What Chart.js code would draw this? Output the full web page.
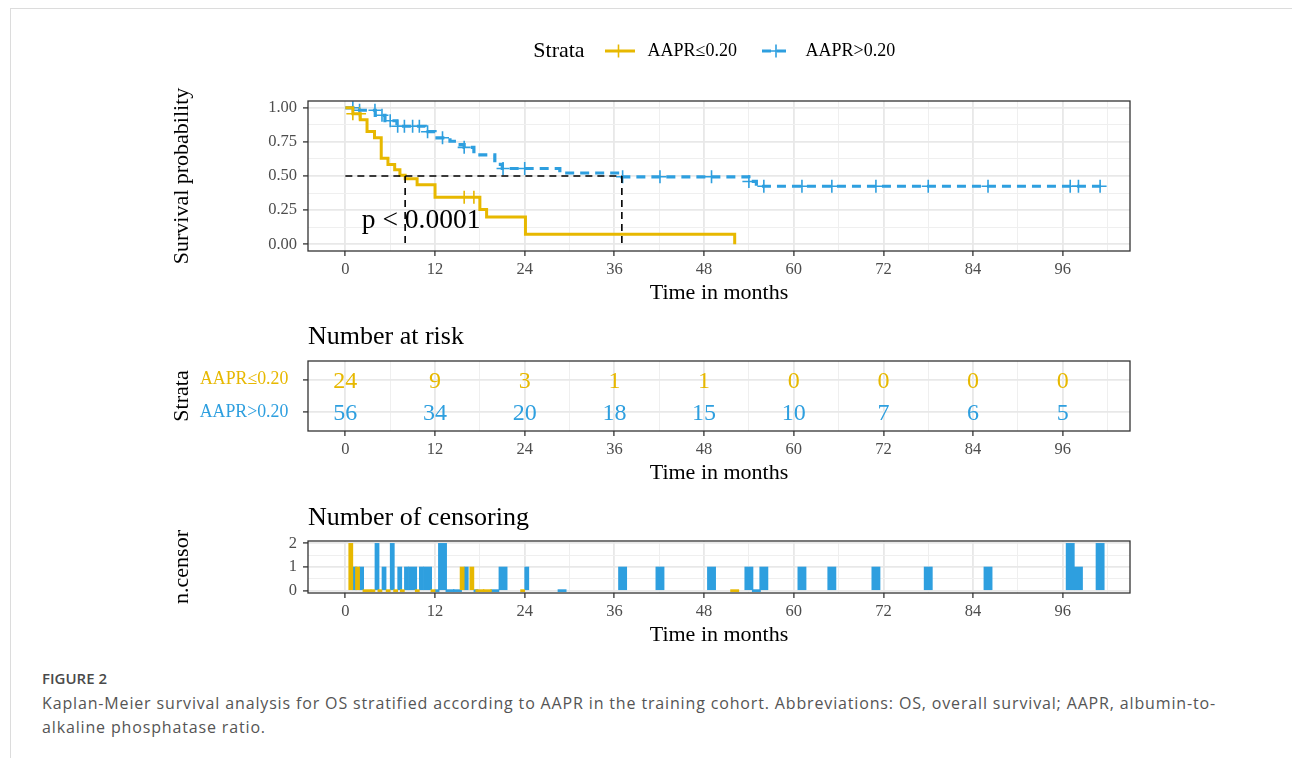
<!DOCTYPE html>
<html lang="en"><head><meta charset="utf-8">
<title>Kaplan-Meier survival analysis</title>
<script src="https://cdn.jsdelivr.net/npm/chart.js@4.4.1/dist/chart.umd.min.js"></script>
<style>
html,body{margin:0;padding:0;background:#fff;}
body{width:1292px;height:758px;position:relative;overflow:hidden;}
#frame{position:absolute;left:10px;top:8px;width:1282px;height:750px;border-top:1px solid #dcdcdc;border-left:1px solid #dcdcdc;box-sizing:border-box;}
canvas{position:absolute;display:block;}
#figlabel{position:absolute;left:42px;top:668px;font-family:'Open Sans',sans-serif;font-weight:600;font-size:15px;line-height:20px;color:#4a4a4a;}
#caption{position:absolute;left:42px;top:691px;font-family:'Open Sans',sans-serif;font-size:16px;letter-spacing:0.85px;line-height:24px;color:#555;white-space:nowrap;}
</style></head><body>
<div id="frame"></div>
<canvas id="km" width="1000" height="286" style="left:150px;top:20px;width:1000px;height:286px"></canvas>
<canvas id="risk" width="1000" height="171" style="left:150px;top:315px;width:1000px;height:171px"></canvas>
<canvas id="cens" width="1000" height="153" style="left:150px;top:495px;width:1000px;height:153px"></canvas>
<div id="figlabel">FIGURE 2</div>
<div id="caption">Kaplan-Meier survival analysis for OS stratified according to AAPR in the training cohort. Abbreviations: OS, overall survival; AAPR, albumin-to-<br>alkaline phosphatase ratio.</div>
<script>
// ---------------- data ----------------
const STRATA = ['AAPR≤0.20', 'AAPR>0.20'];
const TIME_MAJOR = [0, 12, 24, 36, 48, 60, 72, 84, 96];
const TIME_MINOR = [6, 18, 30, 42, 54, 66, 78, 90, 102];
const SURV_MAJOR = [0, 0.25, 0.5, 0.75, 1];
const SURV_MINOR = [0.125, 0.375, 0.625, 0.875];

// Kaplan-Meier step points (time in months, survival probability)
const LOW_TIME = [0, 1.0, 2.0, 2.9, 3.9, 4.8, 5.7, 6.6, 7.3, 8.0, 9.6, 12.0, 18.0, 18.9, 24.1, 52.1];
const LOW_SURV = [1, 0.957, 0.913, 0.826, 0.78, 0.63, 0.585, 0.545, 0.505, 0.48, 0.435, 0.345, 0.255, 0.2, 0.073, 0];
const HIGH_TIME = [0, 1.9, 4.0, 5.3, 6.9, 10.7, 12.0, 14.0, 15.0, 15.9, 17.2, 20.0, 21.0, 28.7, 37.0, 54.0, 55.0, 101.8];
const HIGH_SURV = [1, 0.982, 0.945, 0.905, 0.865, 0.825, 0.78, 0.755, 0.73, 0.71, 0.655, 0.585, 0.555, 0.522, 0.494, 0.46, 0.425, 0.425];

// Number at risk
const RISK_TIME = [0, 12, 24, 36, 48, 60, 72, 84, 96];
const RISK_LOW = [24, 9, 3, 1, 1, 0, 0, 0, 0];
const RISK_HIGH = [56, 34, 20, 18, 15, 10, 7, 6, 5];

// Number of censoring per time (null = stratum has no record at that time)
const CENSOR_TIME = [1.0, 1.9, 2.9, 3.96, 4.9, 6.0, 7.0, 7.9, 9.0, 9.9, 11.0, 12.0, 13.0, 14.0, 15.0, 15.9, 17.2, 18.0, 19.0, 20.0, 21.1, 24.0, 29.0, 37.1, 42.1, 49.0, 52.1, 54.0, 55.0, 56.0, 61.1, 65.1, 71.0, 78.0, 86.0, 97.0, 98.1, 101.0];
const CENSOR_LOW  = [2, 1, 0, 0, 0, 0, 0, 0, null, 0, null, 0, null, null, null, 1, 1, 0, 0, null, null, 0, null, null, null, null, 0, null, null, null, null, null, null, null, null, null, null, null];
const CENSOR_HIGH = [1, 1, null, 2, 1, 2, 1, 1, 1, 1, 1, 0, 2, 0, 0, 1, 0, null, null, 0, 1, 1, 0, 1, 1, 1, null, 1, 0, 1, 1, 1, 1, 1, 1, 2, 1, 2];
const CENSOR_MAJOR = [0, 1, 2];
const CENSOR_MINOR = [0.5, 1.5];
const RISK_ROWS = [2, 1];
const P_VALUE_TEXT = 'p < 0.0001';

// ---------------- style ----------------
const SERIF = "'Liberation Serif','Times New Roman',serif";
const YELLOW = '#E7B800', BLUE = '#2E9FDF';
const TICK_TEXT = '#4d4d4d', BORDER = '#333333';
const GRID_MAJOR = '#e8e8e8', GRID_MINOR = '#efefef';
const X_MIN = -5, X_MAX = 105;
const BAR_W = 1.1;                 // dodge width in months
const PX_PER_MONTH = 822 / (X_MAX - X_MIN);

Chart.defaults.font.family = SERIF;
Chart.defaults.animation = false;

function survAt(times, surv, t) { let s = surv[0]; for (let i = 0; i < times.length; i++) if (times[i] <= t) s = surv[i]; return s; }
function medianTime(times, surv) { for (let i = 0; i < times.length; i++) if (surv[i] <= 0.5) return times[i]; return null; }
const isIn = (arr, v) => arr.some(a => Math.abs(a - v) < 1e-9);

function gridOpts(major) {
  return {
    color: c => (c.tick && isIn(major, c.tick.value)) ? GRID_MAJOR : GRID_MINOR,
    lineWidth: c => (c.tick && isIn(major, c.tick.value)) ? 1.8 : 1,
    tickColor: c => (c.tick && isIn(major, c.tick.value)) ? BORDER : 'rgba(0,0,0,0)',
    tickLength: 5, tickWidth: 1.3, drawTicks: true
  };
}
function xScale() {
  return {
    type: 'linear', min: X_MIN, max: X_MAX, offset: false,
    afterBuildTicks: s => { s.ticks = [...TIME_MAJOR, ...TIME_MINOR].sort((a, b) => a - b).map(v => ({ value: v })); },
    afterFit: s => { s.height = 55; },
    ticks: { autoSkip: false, maxRotation: 0, padding: 4, color: TICK_TEXT, font: { family: SERIF, size: 16.5 },
      callback: v => isIn(TIME_MAJOR, v) ? String(v) : '' },
    grid: Object.assign(gridOpts(TIME_MAJOR), { offset: false }),
    border: { display: false },
    title: { display: true, text: 'Time in months', color: '#000', font: { family: SERIF, size: 22 }, padding: { top: 0, bottom: -0.5 } }
  };
}
function yScale(o) {
  return {
    type: 'linear', min: o.min, max: o.max,
    afterBuildTicks: s => { s.ticks = [...o.major, ...o.minor].sort((a, b) => a - b).map(v => ({ value: v })); },
    afterFit: s => { s.width = 158; },
    ticks: { autoSkip: false, padding: o.pad, color: o.color || TICK_TEXT, font: { family: SERIF, size: o.size || 16.5 },
      callback: v => isIn(o.major, v) ? o.fmt(v) : '' },
    grid: gridOpts(o.major),
    border: { display: false },
    title: { display: true, text: o.title, color: '#000', font: { family: SERIF, size: 22 }, padding: { top: 18.8, bottom: 0 } }
  };
}
const panelBox = {
  id: 'panelBox',
  afterDraw(chart, args, opts) {
    const a = chart.chartArea, ctx = chart.ctx;
    ctx.save();
    ctx.strokeStyle = BORDER; ctx.lineWidth = 1.3;
    ctx.strokeRect(a.left, a.top, a.right - a.left, a.bottom - a.top);
    if (opts && opts.title) {
      ctx.font = '26px ' + SERIF; ctx.fillStyle = '#000'; ctx.textAlign = 'left'; ctx.textBaseline = 'middle';
      ctx.fillText(opts.title, a.left, a.top - opts.gap);
    }
    ctx.restore();
  }
};

// ---------------- KM plot ----------------
const kmExtras = {
  id: 'kmExtras',
  afterDatasetsDraw(chart) {
    const { ctx, scales: { x, y } } = chart;
    const mLow = medianTime(LOW_TIME, LOW_SURV), mHigh = medianTime(HIGH_TIME, HIGH_SURV);
    ctx.save();
    ctx.strokeStyle = '#000'; ctx.lineWidth = 1.6; ctx.setLineDash([7, 5]);
    ctx.beginPath();
    ctx.moveTo(x.getPixelForValue(0), y.getPixelForValue(0.5));
    ctx.lineTo(x.getPixelForValue(Math.max(mLow, mHigh)), y.getPixelForValue(0.5));
    ctx.stroke();
    [mLow, mHigh].forEach(m => {
      ctx.beginPath();
      ctx.moveTo(x.getPixelForValue(m), y.getPixelForValue(0.5));
      ctx.lineTo(x.getPixelForValue(m), y.getPixelForValue(0));
      ctx.stroke();
    });
    ctx.restore();
  },
  afterDraw(chart) {
    const { ctx, scales: { x, y } } = chart;
    ctx.save();
    // p-value
    ctx.font = '27.5px ' + SERIF; ctx.fillStyle = '#000'; ctx.textAlign = 'left'; ctx.textBaseline = 'alphabetic';
    ctx.fillText(P_VALUE_TEXT, x.getPixelForValue(2.2), y.getPixelForValue(0.122));
    // legend
    const ly = 31;
    ctx.textBaseline = 'middle';
    ctx.font = '22px ' + SERIF; ctx.fillStyle = '#000';
    ctx.fillText('Strata', 383.3, ly);
    const keys = [
      { x0: 455, x1: 485, cx: 468.5, tx: 497.5, color: YELLOW, dash: [], label: STRATA[0] },
      { x0: 612, x1: 642, cx: 626, tx: 655.5, color: BLUE, dash: [9, 6], label: STRATA[1] }
    ];
    keys.forEach(k => {
      ctx.strokeStyle = k.color; ctx.lineWidth = 3; ctx.setLineDash(k.dash);
      ctx.beginPath(); ctx.moveTo(k.x0, ly); ctx.lineTo(k.x1, ly); ctx.stroke();
      ctx.setLineDash([]); ctx.lineWidth = 1.6;
      ctx.beginPath(); ctx.moveTo(k.cx, ly - 6.5); ctx.lineTo(k.cx, ly + 6.5); ctx.moveTo(k.cx - 6.5, ly); ctx.lineTo(k.cx + 6.5, ly); ctx.stroke();
      ctx.font = '18px ' + SERIF; ctx.fillStyle = '#000';
      ctx.fillText(k.label, k.tx, ly);
    });
    ctx.restore();
  }
};

const lowCurve = LOW_TIME.map((t, i) => ({ x: t, y: LOW_SURV[i] }));
const highCurve = HIGH_TIME.map((t, i) => ({ x: t, y: HIGH_SURV[i] }));
const lowMarks = CENSOR_TIME.map((t, i) => CENSOR_LOW[i] > 0 ? { x: t, y: survAt(LOW_TIME, LOW_SURV, t) } : null).filter(Boolean);
const highMarks = CENSOR_TIME.map((t, i) => CENSOR_HIGH[i] > 0 ? { x: t, y: survAt(HIGH_TIME, HIGH_SURV, t) } : null).filter(Boolean);

new Chart(document.getElementById('km'), {
  type: 'line',
  data: { datasets: [
    { label: STRATA[0], data: lowCurve, borderColor: YELLOW, borderWidth: 3, stepped: true, pointRadius: 0, fill: false },
    { label: STRATA[1], data: highCurve, borderColor: BLUE, borderWidth: 3.2, borderDash: [9, 6], stepped: true, pointRadius: 0, fill: false },
    { label: STRATA[0] + ' censored', data: lowMarks, showLine: false, pointStyle: 'cross', pointRadius: 6.5, pointBorderWidth: 1.6, borderColor: YELLOW, pointBorderColor: YELLOW },
    { label: STRATA[1] + ' censored', data: highMarks, showLine: false, pointStyle: 'cross', pointRadius: 6.5, pointBorderWidth: 1.6, borderColor: BLUE, pointBorderColor: BLUE }
  ] },
  options: {
    responsive: false, devicePixelRatio: 1, animation: false,
    layout: { padding: { top: 81, right: 20, left: 0, bottom: 0 }, autoPadding: false },
    plugins: { legend: { display: false }, tooltip: { enabled: false }, panelBox: {} },
    scales: {
      x: xScale(),
      y: yScale({ min: -0.05, max: 1.05, major: SURV_MAJOR, minor: SURV_MINOR, fmt: v => v.toFixed(2), title: 'Survival probability', pad: 6 })
    }
  },
  plugins: [panelBox, kmExtras]
});

// ---------------- Number at risk ----------------
const riskNumbers = {
  id: 'riskNumbers',
  afterDatasetsDraw(chart) {
    const ctx = chart.ctx;
    ctx.save();
    ctx.font = '24px ' + SERIF; ctx.textAlign = 'center'; ctx.textBaseline = 'middle';
    chart.data.datasets.forEach((ds, di) => {
      const meta = chart.getDatasetMeta(di);
      ctx.fillStyle = ds.textColor;
      meta.data.forEach((pt, i) => ctx.fillText(String(ds.data[i].n), pt.x, pt.y + 1.5));
    });
    ctx.restore();
  }
};
new Chart(document.getElementById('risk'), {
  type: 'scatter',
  data: { datasets: [
    { label: STRATA[0], textColor: YELLOW, data: RISK_TIME.map((t, i) => ({ x: t, y: RISK_ROWS[0], n: RISK_LOW[i] })), pointRadius: 0 },
    { label: STRATA[1], textColor: BLUE, data: RISK_TIME.map((t, i) => ({ x: t, y: RISK_ROWS[1], n: RISK_HIGH[i] })), pointRadius: 0 }
  ] },
  options: {
    responsive: false, devicePixelRatio: 1, animation: false,
    layout: { padding: { top: 46, right: 20, left: 0, bottom: 0 }, autoPadding: false },
    plugins: { legend: { display: false }, tooltip: { enabled: false }, panelBox: { title: 'Number at risk', gap: 23.5 } },
    scales: {
      x: xScale(),
      y: yScale({ min: 0.42, max: 2.58, major: RISK_ROWS, minor: [], title: 'Strata', pad: 14.7, size: 17.8,
        fmt: v => STRATA[RISK_ROWS.indexOf(v)],
        color: c => (c.tick && c.tick.value === RISK_ROWS[0]) ? YELLOW : BLUE })
    }
  },
  plugins: [panelBox, riskNumbers]
});

// ---------------- Number of censoring ----------------
const shared = CENSOR_TIME.map((t, i) => CENSOR_LOW[i] !== null && CENSOR_HIGH[i] !== null);
function censorBars(counts, isShared, shift) {
  return CENSOR_TIME.map((t, i) => (counts[i] !== null && shared[i] === isShared) ? { x: isShared ? t + shift : t, y: counts[i] } : null).filter(Boolean);
}
const wide = BAR_W * PX_PER_MONTH, narrow = wide / 2;
new Chart(document.getElementById('cens'), {
  type: 'bar',
  data: { datasets: [
    { label: STRATA[0], data: censorBars(CENSOR_LOW, false, 0), backgroundColor: YELLOW, barThickness: wide, minBarLength: 2, grouped: false },
    { label: STRATA[0], data: censorBars(CENSOR_LOW, true, -BAR_W / 4), backgroundColor: YELLOW, barThickness: narrow, minBarLength: 2, grouped: false },
    { label: STRATA[1], data: censorBars(CENSOR_HIGH, false, 0), backgroundColor: BLUE, barThickness: wide, minBarLength: 2, grouped: false },
    { label: STRATA[1], data: censorBars(CENSOR_HIGH, true, BAR_W / 4), backgroundColor: BLUE, barThickness: narrow, minBarLength: 2, grouped: false }
  ] },
  options: {
    responsive: false, devicePixelRatio: 1, animation: false,
    layout: { padding: { top: 46, right: 20, left: 0, bottom: 0 }, autoPadding: false },
    plugins: { legend: { display: false }, tooltip: { enabled: false }, panelBox: { title: 'Number of censoring', gap: 22.5 } },
    scales: {
      x: xScale(),
      y: yScale({ min: -0.1, max: 2.1, major: CENSOR_MAJOR, minor: CENSOR_MINOR, fmt: v => String(v), title: 'n.censor', pad: 6 })
    }
  },
  plugins: [panelBox]
});
</script>
</body></html>
